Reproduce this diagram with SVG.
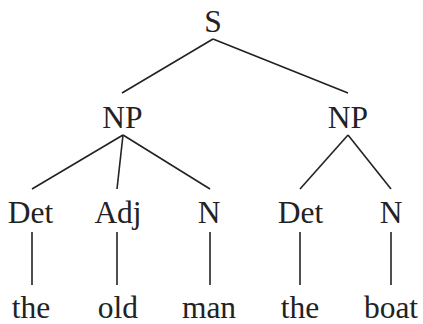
<svg xmlns="http://www.w3.org/2000/svg" width="423" height="324" viewBox="0 0 423 324">
<style>
text{font-family:"Liberation Serif","Times New Roman",serif;font-size:31.5px;fill:#222;text-anchor:middle}
line{stroke:#222;stroke-width:1.6}
</style>
<rect width="423" height="324" fill="#fff"/>
<g id="connectors">
<line x1="213" y1="39" x2="122" y2="93"/>
<line x1="213" y1="39" x2="348" y2="93"/>
<line x1="123" y1="135" x2="32" y2="189"/>
<line x1="123" y1="135" x2="117" y2="189"/>
<line x1="123" y1="135" x2="210" y2="189"/>
<line x1="348" y1="135" x2="300" y2="189"/>
<line x1="348" y1="135" x2="391" y2="189"/>
<line x1="32" y1="232" x2="32" y2="285"/>
<line x1="117" y1="232" x2="117" y2="285"/>
<line x1="210" y1="232" x2="210" y2="285"/>
<line x1="300" y1="232" x2="300" y2="285"/>
<line x1="391" y1="232" x2="391" y2="285"/>
</g>
<g id="S"><text x="213" y="32">S</text></g>
<g id="NP1"><text x="122.5" y="128">NP</text></g>
<g id="NP2"><text x="348" y="128">NP</text></g>
<g id="Det1"><text x="30.5" y="223">Det</text></g>
<g id="Adj"><text x="118" y="223">Adj</text></g>
<g id="N1"><text x="209" y="223">N</text></g>
<g id="Det2"><text x="300.5" y="223">Det</text></g>
<g id="N2"><text x="391" y="223">N</text></g>
<g id="the1"><text x="31" y="318">the</text></g>
<g id="old"><text x="118" y="318">old</text></g>
<g id="man"><text x="209" y="318">man</text></g>
<g id="the2"><text x="300" y="318">the</text></g>
<g id="boat"><text x="391" y="318">boat</text></g>
</svg>
